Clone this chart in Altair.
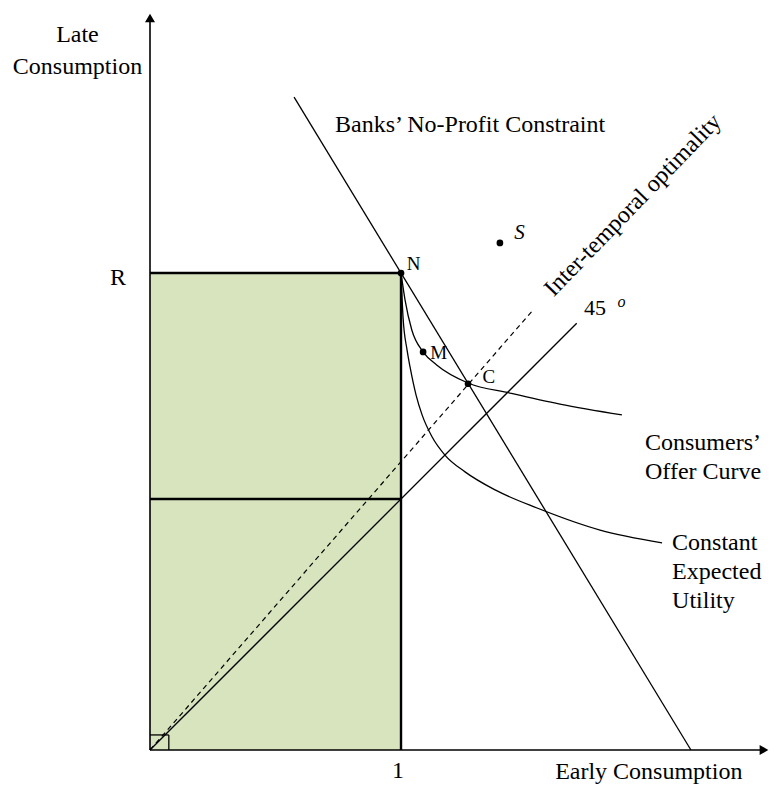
import altair as alt
import pandas as pd

# ---- data (economic units: 1 unit of consumption on both axes) ----
X_MAX = 2.466
Y_MAX = 2.936
R = 1.9

# shaded region: early consumption 0..1, late consumption 0..R
shade_x = [0.0]
shade_x2 = [1.0]
shade_y = [0.0]
shade_y2 = [R]

# axes
axis_x1 = [0.0, 0.0]
axis_y1 = [0.0, 0.0]
axis_x2 = [2.44, 0.0]
axis_y2 = [0.0, 2.91]

# box edges (thick): top edge, right edge, middle horizontal
box_x1 = [0.0, 1.0, 0.0]
box_y1 = [R, 0.0, 1.0]
box_x2 = [1.0, 1.0, 1.0]
box_y2 = [R, R, 1.0]

# thin straight lines: banks' constraint, 45 degree line
thin_x1 = [0.574, 0.0]
thin_y1 = [2.601, 0.0]
thin_x2 = [2.155, 1.70]
thin_y2 = [0.0, 1.70]

# small right-angle square at the origin
sq_x1 = [0.0, 0.075]
sq_y1 = [0.06, 0.0]
sq_x2 = [0.075, 0.075]
sq_y2 = [0.06, 0.06]

# inter-temporal optimality (dashed)
dash_x1 = [0.0]
dash_y1 = [0.0]
dash_x2 = [1.526]
dash_y2 = [1.753]

# consumers' offer curve
offer_x = [1.0, 1.016, 1.043, 1.088, 1.142, 1.267, 1.434, 1.633, 1.880]
offer_y = [1.9, 1.793, 1.673, 1.586, 1.534, 1.462, 1.422, 1.378, 1.335]

# constant expected utility curve
eu_x = [1.0, 1.008, 1.024, 1.036, 1.060, 1.084, 1.124, 1.175, 1.255, 1.375, 1.542, 1.793, 2.040]
eu_y = [1.9, 1.725, 1.594, 1.526, 1.414, 1.335, 1.247, 1.175, 1.108, 1.036, 0.964, 0.876, 0.825]

# named points
pt_names = ["N", "M", "C", "S"]
pt_x = [1.0, 1.088, 1.267, 1.394]
pt_y = [1.9, 1.586, 1.459, 2.020]

# labels
lab_c_text = ["Late", "Consumption", "R", "1"]
lab_c_x = [-0.289, -0.289, -0.127, 0.988]
lab_c_y = [2.849, 2.721, 1.880, -0.084]

lab_l_text = ["Early Consumption", "Banks\u2019 No-Profit Constraint", "Consumers\u2019", "Offer Curve",
              "Constant", "Expected", "Utility"]
lab_l_x = [1.614, 0.737, 1.972, 1.972, 2.080, 2.080, 2.080]
lab_l_y = [-0.088, 2.490, 1.223, 1.108, 0.825, 0.709, 0.594]

pl_text = ["N", "M", "C"]
pl_x = [1.050, 1.150, 1.350]
pl_y = [1.938, 1.582, 1.486]

s_text = ["S"]
s_x = [1.472]
s_y = [2.060]

deg_text = ["45"]
deg_x = [1.773]
deg_y = [1.761]
sup_text = ["o"]
sup_x = [1.878]
sup_y = [1.786]

rot_text = ["Inter-temporal optimality"]
rot_x = [1.924]
rot_y = [2.170]

# arrow heads
arr_up_x = [0.0]
arr_up_y = [2.916]
arr_rt_x = [2.446]
arr_rt_y = [0.0]

# ---- chart ----
xs = alt.Scale(domain=[0, X_MAX], nice=False, zero=False)
ys = alt.Scale(domain=[0, Y_MAX], nice=False, zero=False)
FONT = "Liberation Serif"


def X(f="x"):
    return alt.X(f"{f}:Q", scale=xs, axis=None)


def Y(f="y"):
    return alt.Y(f"{f}:Q", scale=ys, axis=None)


def segs(x1, y1, x2, y2):
    return pd.DataFrame({"x": x1, "y": y1, "x2": x2, "y2": y2})


def rules(df, **kw):
    return alt.Chart(df).mark_rule(color="black", **kw).encode(
        x=X(), y=Y(), x2="x2:Q", y2="y2:Q")


shade = alt.Chart(pd.DataFrame({"x": shade_x, "x2": shade_x2, "y": shade_y, "y2": shade_y2})).mark_rect(
    color="#D7E4BD").encode(x=X(), x2="x2:Q", y=Y(), y2="y2:Q")

axes = rules(segs(axis_x1, axis_y1, axis_x2, axis_y2), strokeWidth=1.6)
box = rules(segs(box_x1, box_y1, box_x2, box_y2), strokeWidth=2.4)
thin = rules(segs(thin_x1, thin_y1, thin_x2, thin_y2), strokeWidth=1.3)
sq = rules(segs(sq_x1, sq_y1, sq_x2, sq_y2), strokeWidth=1.3)
dash = rules(segs(dash_x1, dash_y1, dash_x2, dash_y2), strokeWidth=1.2, strokeDash=[5, 4])

offer = alt.Chart(pd.DataFrame({"x": offer_x, "y": offer_y})).mark_line(
    color="black", strokeWidth=1.3, interpolate="monotone").encode(x=X(), y=Y())
eu = alt.Chart(pd.DataFrame({"x": eu_x, "y": eu_y})).mark_line(
    color="black", strokeWidth=1.3, interpolate="monotone").encode(x=X(), y=Y())

pts = alt.Chart(pd.DataFrame({"x": pt_x, "y": pt_y, "n": pt_names})).mark_circle(
    color="black", opacity=1, size=45).encode(x=X(), y=Y())

arr_up = alt.Chart(pd.DataFrame({"x": arr_up_x, "y": arr_up_y})).mark_point(
    shape="triangle-up", filled=True, color="black", opacity=1, size=100).encode(x=X(), y=Y())
arr_rt = alt.Chart(pd.DataFrame({"x": arr_rt_x, "y": arr_rt_y})).mark_point(
    shape="triangle-right", filled=True, color="black", opacity=1, size=100).encode(x=X(), y=Y())


def texts(t, x, y, **kw):
    return alt.Chart(pd.DataFrame({"x": x, "y": y, "t": t})).mark_text(
        font=FONT, color="black", baseline="middle", **kw).encode(x=X(), y=Y(), text="t:N")


lab_c = texts(lab_c_text, lab_c_x, lab_c_y, fontSize=24, align="center")
lab_l = texts(lab_l_text, lab_l_x, lab_l_y, fontSize=24, align="left")
pl = texts(pl_text, pl_x, pl_y, fontSize=19, align="center")
sl = texts(s_text, s_x, s_y, fontSize=21, align="center", fontStyle="italic")
deg = texts(deg_text, deg_x, deg_y, fontSize=22, align="center")
sup = texts(sup_text, sup_x, sup_y, fontSize=16, align="center", fontStyle="italic")
rot = texts(rot_text, rot_x, rot_y, fontSize=24, align="center", angle=314)

chart = alt.layer(
    shade, dash, thin, offer, eu, box, sq, axes, arr_up, arr_rt, pts,
    lab_c, lab_l, pl, sl, deg, sup, rot
).properties(
    width=619, height=737,
    autosize=alt.AutoSizeParams(type="none"),
    padding={"left": 142, "top": 5, "right": 0, "bottom": 34},
    background="white",
).configure_view(stroke=None)

chart.save("out.html", embed_options={"renderer": "svg", "actions": False})
